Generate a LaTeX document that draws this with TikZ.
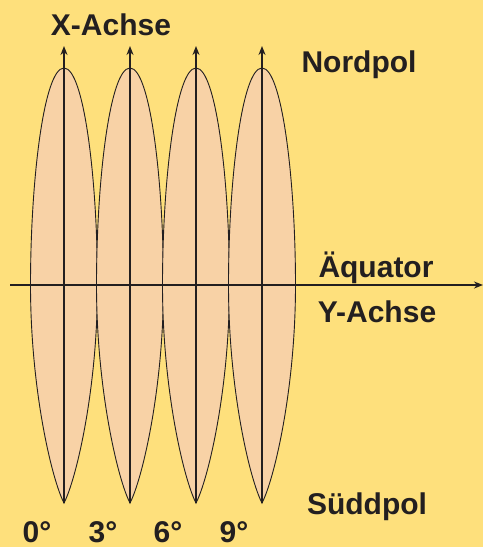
\documentclass[tikz,border=0pt]{standalone}
\usepackage{fontspec}
\setmainfont{Liberation Sans}
\usetikzlibrary{arrows.meta}
\definecolor{bgyellow}{RGB}{254,224,124}
\definecolor{peach}{RGB}{248,210,166}
\definecolor{ink}{RGB}{35,31,32}
\begin{document}
\begin{tikzpicture}[x=1pt,y=-1pt,
  lbl/.style={font=\fontsize{30}{30}\selectfont\bfseries, text=ink, inner sep=0pt, anchor=base},
  lens/.style={fill=peach, draw=ink, line width=0.9pt},
  axis/.style={draw=ink, line width=2.4pt, -{Stealth[length=9pt,width=7pt]}}]
\fill[bgyellow] (0,0) rectangle (483,547);
\useasboundingbox (0,0) rectangle (483,547);
\foreach \i/\cx in {1/64,2/130,3/196,4/262}{
  \path[lens] (\cx,68) .. controls (\cx+20,68) and (\cx+33.5,180) .. (\cx+33.5,285)
    .. controls (\cx+33.5,390) and (\cx+12,480) .. (\cx,503)
    .. controls (\cx-12,480) and (\cx-33.5,390) .. (\cx-33.5,285)
    .. controls (\cx-33.5,180) and (\cx-20,68) .. (\cx,68) -- cycle;
  \coordinate (s\i) at (\cx,503);
  \coordinate (n\i) at (\cx,46);
}
\foreach \i in {1,...,4}{ \draw[axis] (s\i) -- (n\i); }
\coordinate (eqL) at (10,285);
\coordinate (eqR) at (483,285);
\draw[axis] (eqL) -- (eqR);
\node[lbl] (xachse) at (111,35) {X-Achse};
\node[lbl] (nordpol) at (359,72) {Nordpol};
\node[lbl] (aequator) at (376,277) {Äquator};
\node[lbl] (yachse) at (377,322) {Y-Achse};
\node[lbl] (suedpol) at (367,514) {Süddpol};
\node[lbl] (d0) at (37,542) {0°};
\node[lbl] (d3) at (103,542) {3°};
\node[lbl] (d6) at (168,542) {6°};
\node[lbl] (d9) at (234,542) {9°};
\end{tikzpicture}
\end{document}
